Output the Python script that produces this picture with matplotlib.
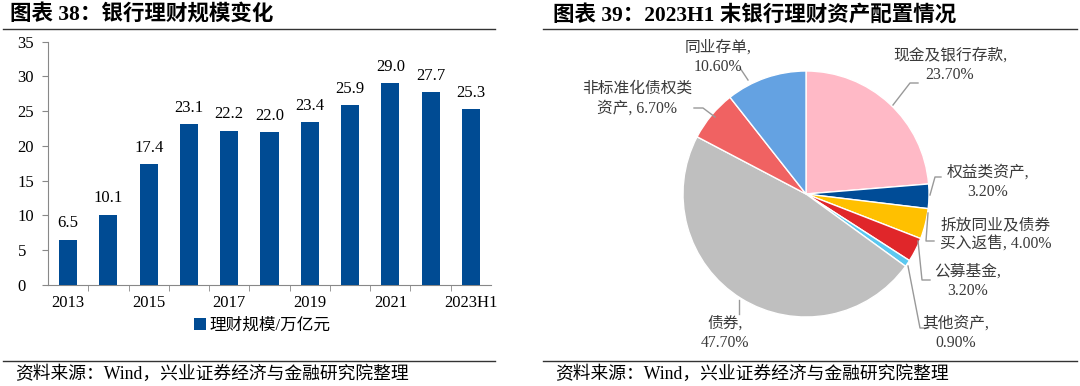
import numpy as np
import matplotlib
matplotlib.use('Agg')
import matplotlib.pyplot as plt
from matplotlib.lines import Line2D

plt.rcParams['font.family'] = ['Liberation Serif', 'Noto Sans CJK SC']

# 左图: 银行理财规模
years = ['2013', '2014', '2015', '2016', '2017', '2018', '2019', '2020', '2021', '2022', '2023H1']
scale = [6.5, 10.1, 17.4, 23.1, 22.2, 22.0, 23.4, 25.9, 29.0, 27.7, 25.3]
shown_ticks = ['2013', '2015', '2017', '2019', '2021', '2023H1']

# 右图: 资产配置
assets = ['现金及银行存款', '权益类资产', '拆放同业及债券\n买入返售', '公募基金',
          '其他资产', '债券', '非标准化债权类\n资产', '同业存单']
shares = [23.7, 3.2, 4.0, 3.2, 0.9, 47.7, 6.7, 10.6]
colors = ['#FFB9C6', '#004C97', '#FFC000', '#E0262A', '#5BC8F0', '#BFBFBF', '#F06262', '#64A2E2']

W, H = 1080, 386
fig = plt.figure(figsize=(W / 100, H / 100), dpi=100)

def px(x, y):
    return x / W, 1 - y / H

# ---------- 标题、分隔线、来源 ----------
fig.text(*px(10, 15), '图表 38：银行理财规模变化', fontsize=15.5, fontweight='bold', va='center')
fig.text(*px(553, 15), '图表 39：2023H1 末银行理财资产配置情况', fontsize=15.5, fontweight='bold', va='center')
for x0, x1 in [(3, 495), (543, 1077)]:
    for yy in (29, 361):
        fig.add_artist(Line2D([x0 / W, x1 / W], [1 - yy / H] * 2, color='#333333', lw=1.0))
fig.text(*px(15, 374), '资料来源：Wind，兴业证券经济与金融研究院整理', fontsize=12.8, va='center')
fig.text(*px(555, 374), '资料来源：Wind，兴业证券经济与金融研究院整理', fontsize=12.8, va='center')

# ---------- 柱状图 ----------
ax = fig.add_axes([48 / W, (H - 285) / H, 443 / W, (285 - 41.7) / H])
x = np.arange(len(years))
bars = ax.bar(x, scale, width=0.45, color='#004B93', label='理财规模/万亿元', zorder=3)
for xi, v in zip(x, scale):
    ax.text(xi, v + 1.2, f'{v:.1f}', ha='center', va='bottom', fontsize=12)
ax.set_xlim(-0.5, len(years) - 0.5)
ax.set_ylim(0, 35)
ax.set_yticks(np.arange(0, 36, 5))
ax.tick_params(axis='y', labelsize=12, length=4, color='#888888', pad=18)
ax.set_xticks(x)
ax.set_xticklabels([y if y in shown_ticks else '' for y in years], fontsize=12)
ax.tick_params(axis='x', length=0, pad=7)
ax.set_xticks(np.arange(0.5, len(years) - 0.5, 1), minor=True)
ax.tick_params(axis='x', which='minor', length=4, color='#888888')
for s in ['top', 'right']:
    ax.spines[s].set_visible(False)
for s in ['left', 'bottom']:
    ax.spines[s].set_color('#888888')
for lab in ax.get_yticklabels():
    lab.set_horizontalalignment('left')
ax.legend(loc='center', bbox_to_anchor=(0.483, -0.168), frameon=False, fontsize=12,
          handlelength=0.7, handleheight=0.7, handletextpad=0.2)

# ---------- 饼图 ----------
cx, cy, R = 806, 194, 123
l, r, t, b = 546, 1076, 40, 355
pax = fig.add_axes([l / W, (H - b) / H, (r - l) / W, (b - t) / H])
wedges, _ = pax.pie(shares, colors=colors, startangle=90, counterclock=False, radius=1,
                    wedgeprops=dict(edgecolor='white', linewidth=1))
pax.set_aspect('auto')
pax.set_xlim((l - cx) / R, (r - cx) / R)
pax.set_ylim((cy - b) / R, (cy - t) / R)

def d(xp, yp):
    return (xp - cx) / R, (cy - yp) / R

# 标签位置 (像素) 与引线折点
label_pos = {
    '现金及银行存款': ((950, 65), [(893, 105), (910, 83), (918, 83)]),
    '权益类资产': ((988, 182), [(930, 195), (935, 177), (941, 177)]),
    '拆放同业及债券\n买入返售': ((996, 235), [(928, 213), (926, 241), (934, 241)]),
    '公募基金': ((968, 281), [(918, 241), (922, 280), (930, 280)]),
    '其他资产': ((956, 333), [(908, 266), (920, 328), (928, 328)]),
    '债券': ((725, 333), [(739, 300), (739, 314)]),
    '非标准化债权类\n资产': ((637, 99), [(715, 117), (703, 108), (694, 108)]),
    '同业存单': ((718, 57), [(748, 80), (740, 68)]),
}
for name, val in zip(assets, shares):
    (tx, ty), pts = label_pos[name]
    if name == '拆放同业及债券\n买入返售':
        txt = f'拆放同业及债券\n买入返售, {val:.2f}%'
    elif name == '非标准化债权类\n资产':
        txt = f'非标准化债权类\n资产, {val:.2f}%'
    else:
        txt = f'{name},\n{val:.2f}%'
    pax.text(*d(tx, ty), txt, ha='center', va='center', fontsize=11.3, color='#3A3A3A',
             linespacing=1.3)
    xs, ys = zip(*[d(*p) for p in pts])
    pax.plot(xs, ys, color='#999999', lw=1)

fig.savefig('out.png', dpi=100)
